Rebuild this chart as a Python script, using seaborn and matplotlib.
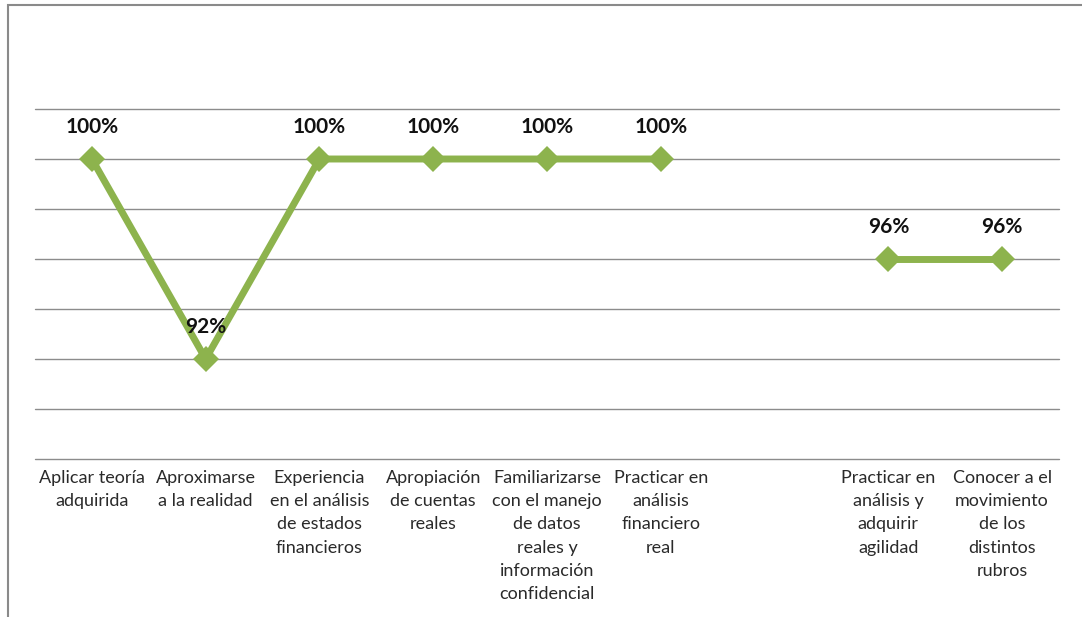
import numpy as np
import pandas as pd
import matplotlib
matplotlib.use("Agg")
import matplotlib.pyplot as plt
import seaborn as sns
from matplotlib.patches import Rectangle

categories = [
    "Aplicar teoría\nadquirida",
    "Aproximarse\na la realidad",
    "Experiencia\nen el análisis\nde estados\nfinancieros",
    "Apropiación\nde cuentas\nreales",
    "Familiarizarse\ncon el manejo\nde datos\nreales y\ninformación\nconfidencial",
    "Practicar en\nanálisis\nfinanciero\nreal",
    "",
    "Practicar en\nanálisis y\nadquirir\nagilidad",
    "Conocer a el\nmovimiento\nde los\ndistintos\nrubros",
]
values = [100, 92, 100, 100, 100, 100, np.nan, 96, 96]
# line breaks at the empty category
segments = [0, 0, 0, 0, 0, 0, 1, 1, 1]

GREEN = "#8db34d"

sns.set_theme(style="white")
plt.rcParams["font.family"] = ["Lato", "DejaVu Sans"]

df = pd.DataFrame({"pos": np.arange(len(categories)), "value": values, "seg": segments})
df = df.dropna()

fig = plt.figure(figsize=(10.82, 6.17), dpi=100)
ax = fig.add_axes([35 / 1082, (617 - 459) / 617, 1024 / 1082, 350 / 617])

sns.lineplot(data=df, x="pos", y="value", units="seg", estimator=None,
             color=GREEN, linewidth=5, marker="D", markersize=13,
             markeredgewidth=0, ax=ax)

for x, v in zip(df["pos"], df["value"]):
    ax.annotate(f"{v:.0f}%", (x, v), xytext=(0, 23), textcoords="offset points",
                ha="center", va="center", fontsize=15, fontweight="bold",
                color="#111111")

ax.set_xlim(-0.5, len(categories) - 0.5)
ax.set_ylim(88, 102)
ax.set_yticks(np.arange(88, 103, 2))
ax.set_yticklabels([])
ax.yaxis.grid(True, color="#8c8c8c", linewidth=1)
for gl in ax.get_ygridlines():
    gl.set_clip_on(False)
ax.set_xticks(range(len(categories)))
ax.set_xticklabels(categories, fontsize=13, color="#2a2a2a", linespacing=1.55,
                   va="top")
ax.tick_params(axis="x", length=0, pad=8)
ax.tick_params(axis="y", length=0)
ax.set_xlabel("")
ax.set_ylabel("")
for s in ax.spines.values():
    s.set_visible(False)

fig.patches.append(Rectangle((8 / 1082, -0.1), 1.2, (617 - 5) / 617 + 0.1,
                             transform=fig.transFigure, fill=False,
                             edgecolor="#8a8a8a", linewidth=1.5))

fig.savefig("out.png", dpi=100)
